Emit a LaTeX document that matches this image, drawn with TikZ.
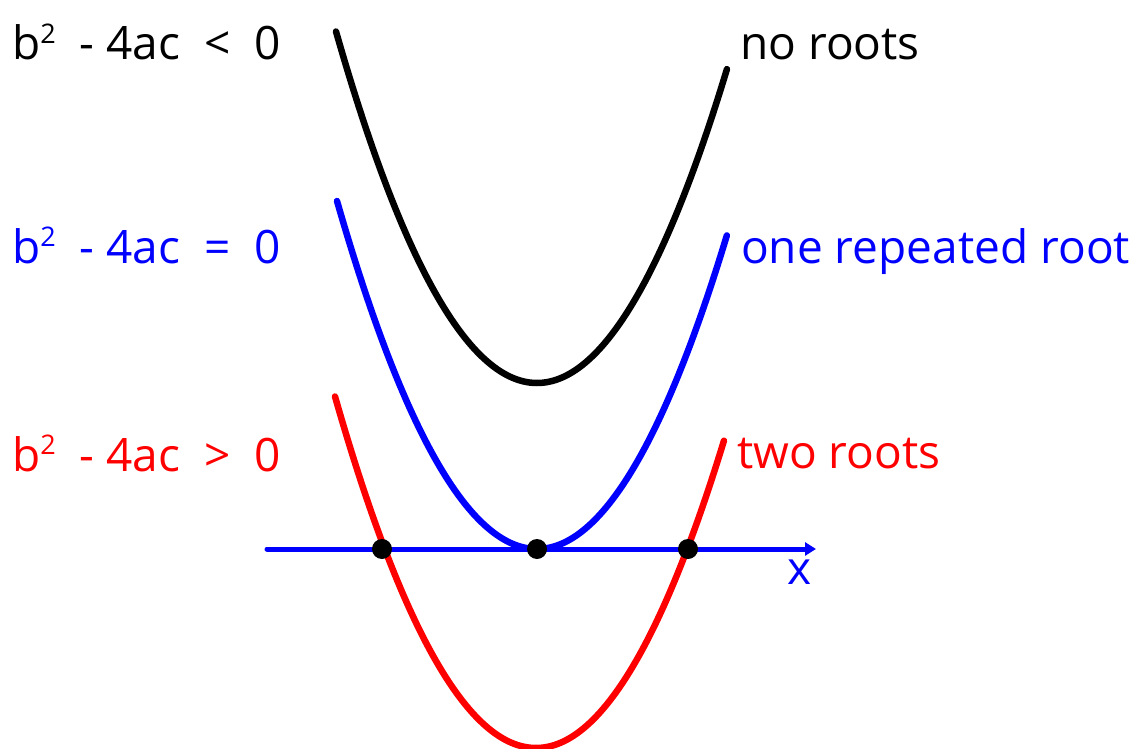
\documentclass[tikz,border=0pt]{standalone}
\usepackage{fontspec}
\setmainfont{Open Sans}
\usetikzlibrary{arrows.meta}
\tikzset{
  curve/.style={line width=6.5pt, line cap=round},
  lbl/.style={anchor=base west, inner sep=0pt, font=\fontsize{46}{54}\selectfont},
  dot/.style={circle, fill=black, inner sep=0pt, minimum size=20pt},
}
\newcommand{\sqtwo}{\raisebox{0.36em}{\fontsize{27}{30}\selectfont 2}}
\begin{document}
\begin{tikzpicture}[x=1pt,y=-1pt]
\useasboundingbox (0,0) rectangle (1141,749);
% parabolas
\draw[curve, black] plot[domain=-2.01:1.90, samples=120] ({537+100*\x},{383-87*\x*\x});
\draw[curve, blue] plot[domain=-2.00:1.90, samples=120] ({537+100*\x},{549-87*\x*\x});
\draw[curve, red] plot[domain=-2.01:1.88, samples=120] ({536+100*\x},{748-87*\x*\x});
% axis
\coordinate (ax0) at (267,549);
\coordinate (ax1) at (816,549);
\draw[blue, line width=5pt, line cap=round, -{Triangle[length=11pt,width=13pt]}] (ax0) -- (ax1);
\node[blue, inner sep=0pt, font=\fontsize{46}{54}\selectfont] (xl) at (800,572) {x};
% roots
\node[dot] (r1) at (382,549) {};
\node[dot] (r2) at (537,549) {};
\node[dot] (r3) at (688,549) {};
% labels
\node[lbl, black] (l1) at (12,60) {b\sqtwo\ \ - 4ac \ <\ \ 0};
\node[lbl, blue] (l2) at (12,263) {b\sqtwo\ \ - 4ac \ =\ \ 0};
\node[lbl, red] (l3) at (12,471) {b\sqtwo\ \ - 4ac \ >\ \ 0};
\node[lbl, black] (t1) at (740,60) {no roots};
\node[lbl, blue] (t2) at (741,263) {one repeated root};
\node[lbl, red] (t3) at (737,468) {two roots};
\end{tikzpicture}
\end{document}
